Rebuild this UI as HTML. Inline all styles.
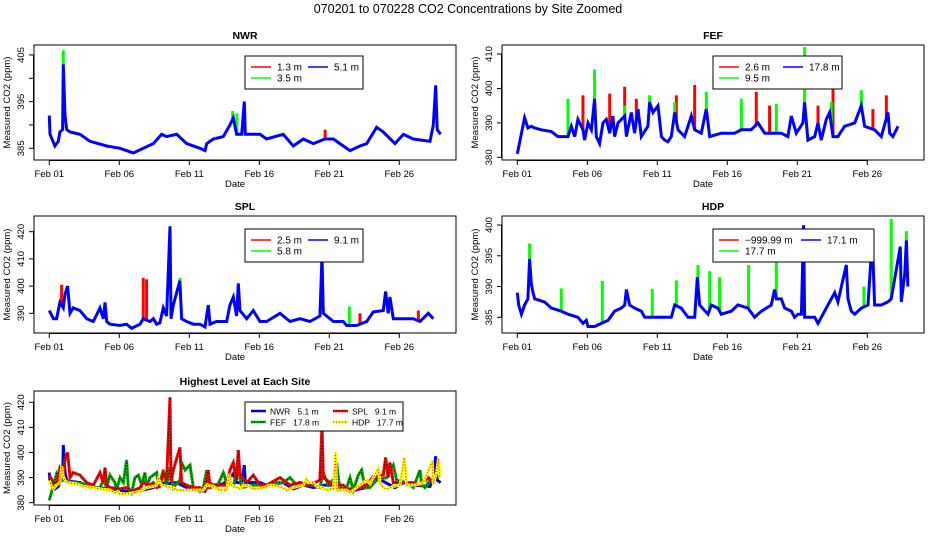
<!DOCTYPE html>
<html><head><meta charset="utf-8"><style>
body{margin:0;background:#fff}
svg text{font-family:"Liberation Sans",sans-serif;fill:#000}
</style></head><body>
<svg id="c" width="936" height="540" xmlns="http://www.w3.org/2000/svg">
<rect width="936" height="540" fill="#fff"/>
<text x="468" y="13" font-size="12.5" text-anchor="middle">070201  to  070228 CO2 Concentrations by Site Zoomed</text>
</svg>
<script>
// ---- data (days since Feb 01, ppm) ----
const dateTicks=["Feb 01","Feb 06","Feb 11","Feb 16","Feb 21","Feb 26"];
const dateTickDays=[0,5,10,15,20,25];
const nwrDays=[0,0.05,0.4,0.64,0.76,0.95,1.0,1.12,1.24,1.48,2.19,2.9,4.1,5.05,6.0,6.71,7.43,8.02,8.38,9.1,9.81,10.76,11.12,11.24,11.71,12.43,12.9,13.14,13.38,13.74,13.93,14.0,15.05,15.52,16.71,17.43,18.14,18.86,19.69,20.29,20.76,21.48,22.19,22.67,23.38,23.86,24.69,25.29,26.0,27.19,27.43,27.6,27.71,27.95];
const nwrBlue=[392,388,385.5,386.5,388.5,389,403,392,389,388.5,388,386.5,385.5,385,384,385,386,388,387.5,388,386,385,384.5,386,387,387.5,390,391.5,388,388,395,388,388,387,388,385.5,387,386,387,387,386,384.5,385.5,386,389.5,388.5,386,388,387,386.5,390,398.5,389,388];
const nwrRedDays=[19.7,1.05];const nwrRedVals=[389,395];
const nwrGreenDays=[1.0,13.4,13.1];const nwrGreenVals=[406,392.5,393];
const fefDays=[0,0.52,0.64,0.76,1.0,1.24,1.71,2.43,2.9,3.62,3.86,4.1,4.33,4.69,4.81,5.05,5.29,5.52,5.64,5.88,6.12,6.36,6.6,6.83,6.95,7.19,7.67,7.79,8.14,8.38,8.62,8.86,9.33,9.45,9.69,10.05,10.29,10.52,10.76,11.0,11.24,11.48,11.95,12.43,12.67,13.14,13.5,13.74,14.57,15.52,16.0,16.71,17.19,17.67,18.86,19.33,19.57,19.93,20.4,20.52,20.76,21.24,21.48,21.71,22.07,22.31,22.55,22.9,23.38,24.1,24.57,24.81,25.52,26.0,26.48,26.6,26.83,27.19];
const fefBlue=[381,391.5,390,388.5,389,388.5,388,387.5,386,386,389,386,391,388,385,390,388,397,386,384,390,391,387,392,386,390,392,386,393,387,394,386,389,396,393,395,386,385,384.5,386,393,388,386,392,388,387,394,386,387,387,388,388,390,387,387,386,392,387,390,396,385,386,390,385,391,393,386,386,389,390,395,389,388,386,393,387,386,389];
const fefRedDays=[4.69,6.6,7.67,8.5,11.36,12.67,17.07,18.02,21.48,22.55,25.4,26.36];
const fefRedVals=[398,398.5,400.5,397,398,401,399,395,395,403.5,394,398];
const fefGreenDays=[3.62,5.52,9.45,11.24,13.5,16.0,18.5,20.52,22.43,24.57,7.67];
const fefGreenVals=[397,405.5,398,396,399,397,395.5,412,396,399.5,395];
const splDays=[0,0.29,0.52,0.76,1.0,1.12,1.31,1.48,1.71,2.19,2.67,3.14,3.62,3.86,3.98,4.1,4.33,5.05,5.52,5.88,6.48,6.71,7.19,7.43,7.67,7.9,8.14,8.38,8.62,8.69,8.86,9.33,9.45,9.81,10.29,10.76,11.12,11.36,11.48,11.95,12.67,12.9,13.14,13.38,13.5,13.62,14.1,14.57,15.05,15.52,16.48,17.19,17.9,18.62,19.33,19.48,19.57,20.29,21.0,21.24,21.95,22.67,23.14,23.86,24.02,24.21,24.33,24.57,25.29,26.0,26.48,27.07,27.43];
const splBlue=[391,388,388,394,392,397,400,390,392,391,388,387,392,388,394,387,386,385.5,386,384.5,386,388,387,388,386,386.5,392,389,422,388,393,402,388,387,386,386,385,393,386,387,387,393,396,389,401,391,388,391,387,387,390,387,388,387,389,411,390,387,387,385.5,385.5,387,390.5,391,398,390,396,388,388,388,387,390,388];
const splRedDays=[0.88,6.71,6.95,19.48,22.19,26.36];const splRedVals=[400.5,403,402.5,414,390,391];
const splGreenDays=[9.33,21.43];const splGreenVals=[403,392.5];
const hdpDays=[0,0.1,0.29,0.52,0.76,0.88,1.0,1.12,1.24,1.95,2.43,3.14,3.62,4.33,4.69,4.93,5.05,5.29,5.52,6.0,6.48,6.95,7.43,7.67,7.79,8.02,8.38,8.86,9.1,9.81,10.52,11.0,11.24,11.71,12.19,12.67,12.86,13.02,13.62,13.86,14.33,14.57,15.29,15.76,16.48,16.95,17.43,18.14,18.38,18.5,18.86,19.1,19.57,19.81,20.05,20.29,20.45,20.52,21.24,21.48,21.95,22.43,22.67,22.9,23.5,23.62,23.86,24.1,24.57,25.05,25.36,25.52,26.0,26.48,26.71,27.36,27.43,27.67,27.79,27.9];
const hdpBlue=[389,387,385.5,387,388,394.5,390.5,389,388,387.5,386.5,386,385.5,385,384,384.5,383.5,383.5,383.5,384,384.5,386,386.5,387,389.5,387,386.5,386,385,385,385,385,387,386.5,385,385,391.5,387,385.5,387,386.5,385.5,386,387,386.5,385,386,387,389.5,388,388,386.5,386,385,385.5,385.5,400,385,385,384,386,388,389,387.5,393.5,388,386,385.5,386.5,387,398,387,387,387.5,388,396.5,387.5,392,397.5,390];
const hdpGreenDays=[0.88,3.14,6.07,9.64,11.36,12.9,13.74,14.45,16.52,18.5,24.76,26.71,27.79];
const hdpGreenVals=[397,389.7,390.9,389.6,391,393.5,392.5,391.5,393.5,395.5,390,401,399];

const svg=document.getElementById('c');
const NS='http://www.w3.org/2000/svg';
function el(tag,attrs,parent){const e=document.createElementNS(NS,tag);for(const k in attrs)e.setAttribute(k,attrs[k]);(parent||svg).appendChild(e);return e;}

function panel(cfg){
  const g=el('g',{});
  
  
  const X=d=>cfg.dx0+d*14;
  const Y=v=>cfg.yAt-(v-cfg.vAt)*cfg.ppu;
  const clip='clip-'+cfg.name;
  const cp=el('clipPath',{id:clip},g);el('rect',{x:cfg.x0,y:cfg.y0,width:cfg.x1-cfg.x0,height:cfg.y1-cfg.y0},cp);
  const t=el('text',{x:(cfg.x0+cfg.x1)/2,y:cfg.y0-6,'font-size':10.5,'font-weight':'bold','text-anchor':'middle'},g);t.textContent=cfg.title;
  
  
  const plot=el('g',{'clip-path':'url(#'+clip+')'},g);
  const interp=(days,vals,d)=>{for(let i=1;i<days.length;i++){if(days[i]>=d){const f=(d-days[i-1])/(days[i]-days[i-1]);return vals[i-1]+f*(vals[i]-vals[i-1]);}}return vals[vals.length-1];};
  (cfg.spikes||[]).forEach(s=>{
    s.days.forEach((d,i)=>{
      const base=interp(cfg.baseDays,cfg.baseVals,d);
      const l=el('line',{x1:X(d),x2:X(d),y1:Y(base),y2:Y(s.vals[i]),stroke:s.color,'stroke-width':3},plot);
      
      
    });
  });
  (cfg.series||[]).forEach(s=>{
    const pts=s.days.map((d,i)=>X(d).toFixed(1)+','+Y(s.vals[i]).toFixed(1)).join(' ');
    const p=el('polyline',{points:pts,fill:'none',stroke:s.color,'stroke-width':s.w||3,'stroke-linejoin':'miter'},plot);
    
    
    if(s.dots){const q=el('polyline',{points:pts,fill:'none',stroke:s.dots,'stroke-width':1,'stroke-dasharray':'1 2'},plot);
      
      }
  });
  el('rect',{x:cfg.x0,y:cfg.y0,width:cfg.x1-cfg.x0,height:cfg.y1-cfg.y0,fill:'none',stroke:'#000','stroke-width':1},g);
  const ax=el('g',{},g);
  el('line',{x1:X(0),x2:X(25),y1:cfg.y1+0.5,y2:cfg.y1+0.5,stroke:'#000'},ax);
  dateTickDays.forEach((d,i)=>{el('line',{x1:X(d),x2:X(d),y1:cfg.y1,y2:cfg.y1+5,stroke:'#000'},ax);
    const tt=el('text',{x:X(d),y:cfg.y1+17,'font-size':9.5,'text-anchor':'middle'},ax);tt.textContent=dateTicks[i];});
  const xl=el('text',{x:(cfg.x0+cfg.x1)/2-10,y:cfg.y1+27,'font-size':9.5,'text-anchor':'middle'},g);xl.textContent='Date';
  
  
  const ay=el('g',{},g);
  const yt=cfg.yticks;
  el('line',{x1:cfg.x0-0.5,x2:cfg.x0-0.5,y1:Y(yt[0]),y2:Y(yt[yt.length-1]),stroke:'#000'},ay);
  yt.forEach(v=>{el('line',{x1:cfg.x0-5,x2:cfg.x0,y1:Y(v),y2:Y(v),stroke:'#000'},ay);});
  cfg.ylabels.forEach(v=>{const tx=cfg.x0-10,ty=Y(v);const tt=el('text',{x:tx,y:ty,'font-size':9.5,'text-anchor':'middle',transform:'rotate(-90 '+tx+' '+ty+')'},ay);tt.textContent=v;});
  const yx=cfg.x0-24,yy=(cfg.y0+cfg.y1)/2;
  const ytl=el('text',{x:yx,y:yy,'font-size':9.5,'text-anchor':'middle',transform:'rotate(-90 '+yx+' '+yy+')'},g);ytl.textContent='Measured CO2 (ppm)';
  
  
  const L=cfg.legend;const lg=el('g',{},g);
  
  
  el('rect',{x:L.x,y:L.y,width:L.w,height:L.h,fill:'#fff',stroke:'#000'},lg);
  const ll=L.ll||20, lt=L.lt||26, fs=L.fs||10;
  L.items.forEach(it=>{
    const ey=L.y+(it.row?L.r2:L.r1);const ex=L.x+(it.col?L.c2:6);
    const ent=el('g',{},lg);
    
    
    el('line',{x1:ex,x2:ex+ll,y1:ey,y2:ey,stroke:it.color,'stroke-width':it.dots?2.5:1.5},ent);
    if(it.dots)el('line',{x1:ex,x2:ex+ll,y1:ey,y2:ey,stroke:it.dots,'stroke-width':1,'stroke-dasharray':'1 2'},ent);
    const tt=el('text',{x:ex+lt,y:ey+3.5,'font-size':fs},ent);tt.textContent=it.label;tt.style.whiteSpace='pre';
  });
}

panel({name:'nwr',title:'NWR',x0:34,x1:456,y0:45,y1:160,dx0:49.3,yAt:148.3,vAt:385,ppu:4.667,
  yticks:[385,390,395,400,405],ylabels:[385,395,405],
  baseDays:nwrDays,baseVals:nwrBlue,
  spikes:[{days:nwrRedDays,vals:nwrRedVals,color:'#f00'},{days:nwrGreenDays,vals:nwrGreenVals,color:'#0f0'}],
  series:[{name:'nwr-5.1m-line',days:nwrDays,vals:nwrBlue,color:'#00f'}],
  legend:{x:245,y:56,w:118,h:33,c2:63,r1:11,r2:22,items:[{label:'1.3 m',color:'#f00'},{label:'5.1 m',color:'#00f',col:1},{label:'3.5 m',color:'#0f0',row:1}]}});
panel({name:'fef',title:'FEF',x0:502,x1:924,y0:45,y1:160,dx0:517.3,yAt:157.3,vAt:380,ppu:3.443,
  yticks:[380,390,400,410],ylabels:[380,390,400,410],
  baseDays:fefDays,baseVals:fefBlue,
  spikes:[{days:fefRedDays,vals:fefRedVals,color:'#f00'},{days:fefGreenDays,vals:fefGreenVals,color:'#0f0'}],
  series:[{name:'fef-17.8m-line',days:fefDays,vals:fefBlue,color:'#00f'}],
  legend:{x:713,y:56,w:129,h:33,c2:70,r1:11,r2:22,items:[{label:'2.6 m',color:'#f00'},{label:'17.8 m',color:'#00f',col:1},{label:'9.5 m',color:'#0f0',row:1}]}});
panel({name:'spl',title:'SPL',x0:34,x1:456,y0:216,y1:333,dx0:49.3,yAt:313.3,vAt:390,ppu:2.72,
  yticks:[390,400,410,420],ylabels:[390,400,410,420],
  baseDays:splDays,baseVals:splBlue,
  spikes:[{days:splRedDays,vals:splRedVals,color:'#f00'},{days:splGreenDays,vals:splGreenVals,color:'#0f0'}],
  series:[{name:'spl-9.1m-line',days:splDays,vals:splBlue,color:'#00f'}],
  legend:{x:245,y:229,w:118,h:33,c2:63,r1:11,r2:22,items:[{label:'2.5 m',color:'#f00'},{label:'9.1 m',color:'#00f',col:1},{label:'5.8 m',color:'#0f0',row:1}]}});
panel({name:'hdp',title:'HDP',x0:502,x1:924,y0:216,y1:333,dx0:517.3,yAt:317.3,vAt:385,ppu:6.15,
  yticks:[385,390,395,400],ylabels:[385,390,395,400],
  baseDays:hdpDays,baseVals:hdpBlue,
  spikes:[{days:hdpGreenDays,vals:hdpGreenVals,color:'#0f0'}],
  series:[{name:'hdp-17.1m-line',days:hdpDays,vals:hdpBlue,color:'#00f'}],
  legend:{x:713,y:229,w:161,h:33,c2:88,r1:11,r2:22,items:[{label:'\u2212999.99 m',color:'#f00'},{label:'17.1 m',color:'#00f',col:1},{label:'17.7 m',color:'#0f0',row:1}]}});
panel({name:'highest',title:'Highest Level at Each Site',x0:34,x1:456,y0:391,y1:505,dx0:49.3,yAt:502.7,vAt:380,ppu:2.51,
  yticks:[380,390,400,410,420],ylabels:[380,390,400,410,420],
  series:[{name:'nwr-5.1m-line',days:nwrDays,vals:nwrBlue,color:'#00f',dots:'#000'},
          {name:'fef-17.8m-line',days:fefDays,vals:fefBlue,color:'#0a0',dots:'#000'},
          {name:'spl-9.1m-line',days:splDays,vals:splBlue,color:'#f00',dots:'#000'},
          {name:'hdp-17.7m-line',days:hdpDays,vals:hdpBlue,color:'#ff0',dots:'#f00'}],
  legend:{x:245,y:402,w:158,h:29,c2:88,r1:9,r2:20,ll:15,lt:19,fs:8.5,items:[{label:'NWR   5.1 m',color:'#00f',dots:'#000'},{label:'SPL   9.1 m',color:'#f00',dots:'#000',col:1},{label:'FEF   17.8 m',color:'#0a0',dots:'#000',row:1},{label:'HDP   17.7 m',color:'#ff0',dots:'#f00',row:1,col:1}]}});
</script>
</body></html>
